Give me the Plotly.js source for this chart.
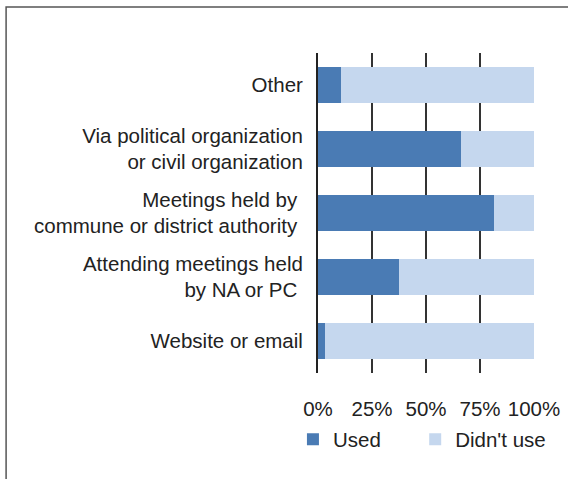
<!DOCTYPE html>
<html><head><meta charset="utf-8">
<script src="https://cdn.plot.ly/plotly-3.0.1.min.js"></script>
<style>body{margin:0;padding:0;background:#fff}#chart{width:568px;height:479px}</style>
</head><body><div id="chart"></div>
<script>
const categories = ["Other", "Via political organization<br>or civil organization", "Meetings held by <br>commune or district authority ", "Attending meetings held<br>by NA or PC ", "Website or email"];
const usedValues = [10.6, 66.2, 81.5, 37.5, 3.2];
const didntUseValues = usedValues.map(v => 100 - v);
const seriesNames = ["Used", "Didn't use"];
const tickVals = [0, 25, 50, 75, 100];
const tickLabels = ["0%", "25%", "50%", "75%", "100%"];

const font = {family: "Liberation Sans, Arial, sans-serif", size: 20.5, color: "#222"};
const traces = [
  {type: "bar", orientation: "h", name: seriesNames[0], y: categories, x: usedValues,
   marker: {color: "#4a7bb4"}, width: 0.56, hoverinfo: "x+y", legend: "legend"},
  {type: "bar", orientation: "h", name: seriesNames[1], y: categories, x: didntUseValues,
   marker: {color: "#c5d7ee"}, width: 0.56, hoverinfo: "x+y", legend: "legend2"}
];
const legendBase = {orientation: "h", xanchor: "left", y: -0.145, yanchor: "top",
  bgcolor: "rgba(0,0,0,0)", font: font};
const layout = {
  width: 568, height: 479, barmode: "stack",
  margin: {l: 318, r: 34, t: 53, b: 106},
  font: font, paper_bgcolor: "#fff", plot_bgcolor: "#fff",
  showlegend: true,
  xaxis: {range: [0, 100], tickvals: tickVals, ticktext: tickLabels, showgrid: true,
    gridcolor: "#333", gridwidth: 1.5, zeroline: false, showline: false, fixedrange: true,
    ticks: "", ticklabelstandoff: 21, tickfont: font},
  yaxis: {categoryorder: "array", categoryarray: categories, autorange: "reversed",
    showline: true, linecolor: "#222", linewidth: 2, ticks: "", ticklabelstandoff: 9,
    tickfont: font, fixedrange: true},
  legend: Object.assign({}, legendBase, {x: -0.116}),
  legend2: Object.assign({}, legendBase, {x: 0.45}),
  shapes: [{type: "rect", xref: "paper", yref: "paper", x0: -1.444, x1: 1.4, y0: -0.6, y1: 1.144,
    line: {color: "#555", width: 1.5}, fillcolor: "rgba(0,0,0,0)", layer: "below"}]
};
Plotly.newPlot("chart", traces, layout, {displayModeBar: false, staticPlot: true});
</script></body></html>
